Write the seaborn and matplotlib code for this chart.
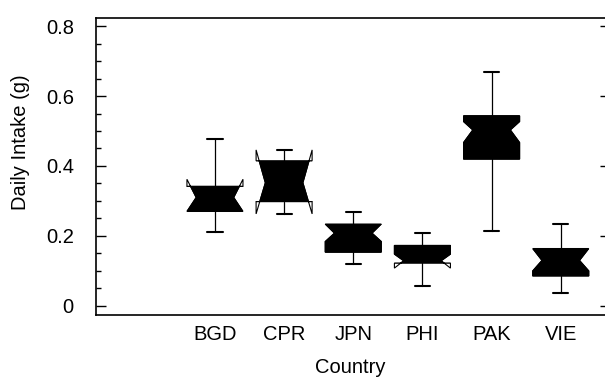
import numpy as np
import pandas as pd
import matplotlib
matplotlib.use("Agg")
import matplotlib.pyplot as plt
import matplotlib.patches as mpatches
import matplotlib.path as mpath
from matplotlib.ticker import MultipleLocator
import seaborn as sns

# ---- data ----
countries = ["BGD", "CPR", "JPN", "PHI", "PAK", "VIE"]
whislo = [0.212, 0.262, 0.120, 0.057, 0.215, 0.036]
q1 = [0.270, 0.298, 0.153, 0.122, 0.419, 0.085]
med = [0.310, 0.352, 0.208, 0.129, 0.503, 0.130]
q3 = [0.342, 0.415, 0.234, 0.173, 0.544, 0.164]
whishi = [0.478, 0.447, 0.268, 0.209, 0.668, 0.235]
cilo = [0.270, 0.263, 0.184, 0.108, 0.467, 0.100]
cihi = [0.362, 0.446, 0.234, 0.148, 0.527, 0.164]
ytick_vals = [0, 0.2, 0.4, 0.6, 0.8]
ytick_labels = ["0", "0.2", "0.4", "0.6", "0.8"]

sns.set_theme(style="ticks", rc={
    "text.color": "black", "axes.labelcolor": "black", "axes.edgecolor": "black",
    "xtick.color": "black", "ytick.color": "black",
})
plt.rcParams["font.family"] = ["Liberation Sans", "DejaVu Sans"]

FS = 14.5
W = 0.81
CAPW = 0.22
NOTCH = 0.335

fig = plt.figure(figsize=(6.05, 3.79), dpi=100)
ax = fig.add_axes([96 / 605, 1 - 315 / 379, 1 - 96 / 605, (315 - 18) / 379])

df = pd.DataFrame(dict(label=countries, whislo=whislo, q1=q1, med=med, q3=q3,
                       whishi=whishi, cilo=cilo, cihi=cihi))
stats = df.to_dict("records")
positions = np.arange(len(countries))


def widen(patches):
    for p, pos in zip(patches, positions):
        path = p.get_path()
        v = np.array(path.vertices, dtype=float).copy()
        v[3, 0] = pos + NOTCH * W
        v[8, 0] = pos - NOTCH * W
        p.set_path(mpath.Path(v, path.codes))


# layer 1: outline (white inside, shows the notch flares)
a1 = ax.bxp(stats, positions=positions, widths=W, capwidths=CAPW,
            shownotches=True, patch_artist=True, showfliers=False,
            manage_ticks=False,
            boxprops=dict(facecolor="white", edgecolor="black", linewidth=0.8),
            whiskerprops=dict(color="black", linewidth=0.9),
            capprops=dict(color="black", linewidth=1.5),
            medianprops=dict(color="black", linewidth=0))
widen(a1["boxes"])

# layer 2: black body clipped to the inter-quartile band
a2 = ax.bxp(stats, positions=positions, widths=W, capwidths=CAPW,
            shownotches=True, patch_artist=True, showfliers=False,
            showcaps=False, manage_ticks=False,
            boxprops=dict(facecolor="black", edgecolor="black", linewidth=0.8),
            whiskerprops=dict(linestyle="none"),
            medianprops=dict(color="black", linewidth=0))
widen(a2["boxes"])
for p, pos, lo, hi in zip(a2["boxes"], positions, q1, q3):
    rect = mpatches.Rectangle((pos - W, lo), 2 * W, hi - lo, transform=ax.transData)
    p.set_clip_path(rect)

ax.set_xlim(-1.72, 5.64)
ax.set_ylim(-0.026, 0.823)
ax.set_xticks(positions, countries)
ax.tick_params(axis="x", length=0, pad=7, labelsize=FS)
ax.set_yticks(ytick_vals, ytick_labels)
ax.yaxis.set_minor_locator(MultipleLocator(0.05))
ax.tick_params(axis="y", which="major", direction="in", length=7.2, width=1.0,
               pad=16, labelsize=FS, left=True, right=False)
ax.tick_params(axis="y", which="minor", direction="in", length=3.6, width=1.0,
               left=True, right=False)

for s in ["left", "top", "bottom"]:
    ax.spines[s].set_linewidth(1.2)
    ax.spines[s].set_color("black")
ax.spines["right"].set_visible(False)

sec = ax.secondary_yaxis("right")
sec.set_yticks(ytick_vals)
sec.tick_params(direction="in", length=3.6, width=1.0, labelright=False)
sec.spines["right"].set_visible(False)

ax.set_xlabel("Country", fontsize=FS, labelpad=10)
ax.set_ylabel("Daily Intake (g)", fontsize=FS)
ax.yaxis.set_label_coords(-0.13, 0.5825)

fig.savefig("out.png", dpi=100)
